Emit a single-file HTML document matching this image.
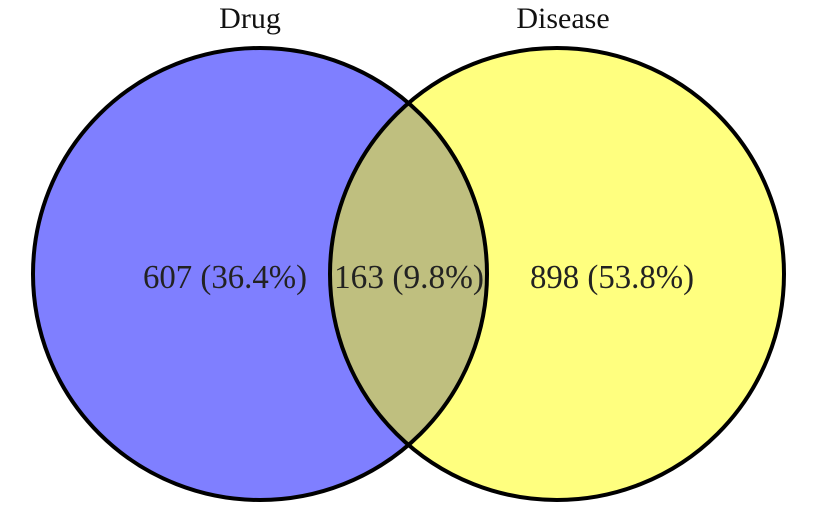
<!DOCTYPE html>
<html><head><meta charset="utf-8"><style>html,body{margin:0;padding:0;background:#fff}svg{display:block}</style></head>
<body>
<svg width="821" height="524" viewBox="0 0 821 524" font-family="'Liberation Serif', serif">
<defs><clipPath id="cl"><ellipse cx="260" cy="274" rx="227" ry="226"/></clipPath></defs>
<ellipse cx="260" cy="274" rx="227" ry="226" fill="#7f7fff"/>
<ellipse cx="557" cy="274" rx="227" ry="226" fill="#ffff7f"/>
<ellipse cx="557" cy="274" rx="227" ry="226" fill="#bfbf7f" clip-path="url(#cl)"/>
<ellipse cx="260" cy="274" rx="227" ry="226" fill="none" stroke="#000" stroke-width="4"/>
<ellipse cx="557" cy="274" rx="227" ry="226" fill="none" stroke="#000" stroke-width="4"/>
<text x="250" y="28" font-size="30" text-anchor="middle" fill="#111">Drug</text>
<text x="563" y="28" font-size="30" text-anchor="middle" fill="#111">Disease</text>
<g font-size="34" fill="#222" text-anchor="middle">
<text x="225" y="288" textLength="164" lengthAdjust="spacingAndGlyphs">607 (36.4%)</text>
<text x="409" y="288" textLength="150" lengthAdjust="spacingAndGlyphs">163 (9.8%)</text>
<text x="612" y="288" textLength="164" lengthAdjust="spacingAndGlyphs">898 (53.8%)</text>
</g>
</svg>
</body></html>
